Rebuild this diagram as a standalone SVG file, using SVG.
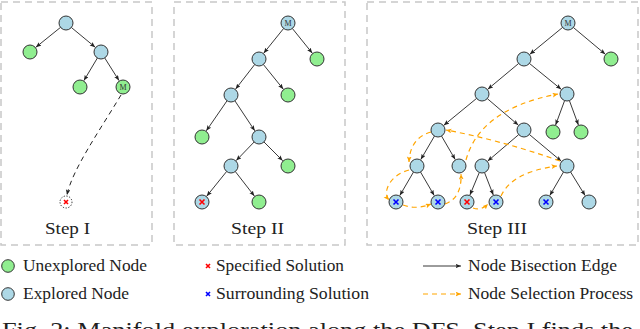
<svg xmlns="http://www.w3.org/2000/svg" width="640" height="329" viewBox="0 0 640 329">
<style>
.frame{fill:none;stroke:#c8c8c8;stroke-width:1.5;stroke-dasharray:7,5}
.ex{fill:#add8e6;stroke:#333;stroke-width:1}
.un{fill:#90ee90;stroke:#333;stroke-width:1}
.edge{fill:none;stroke:#222;stroke-width:0.9;marker-end:url(#ah)}
.sel{fill:none;stroke:#ffa500;stroke-width:1.2;stroke-dasharray:5,4;marker-end:url(#oh)}
.jump{fill:none;stroke:#222;stroke-width:1;stroke-dasharray:5,4;marker-end:url(#jh)}
.xr{stroke:#f00;stroke-width:1.6;fill:none}
.xb{stroke:#00f;stroke-width:1.6;fill:none}
.lbl{font-family:"Liberation Serif",serif;font-size:17px;fill:#222}
.m{font-family:"Liberation Serif",serif;font-size:8px;fill:#333;text-anchor:middle}
</style>
<defs>
<marker id="ah" markerUnits="userSpaceOnUse" markerWidth="7" markerHeight="6" refX="5.5" refY="2.2" orient="auto"><path d="M0,0 L5.5,2.2 L0,4.4 L1.2,2.2 z" fill="#222"/></marker>
<marker id="oh" markerUnits="userSpaceOnUse" markerWidth="7" markerHeight="6" refX="5.5" refY="2.4" orient="auto"><path d="M0,0 L5.5,2.4 L0,4.8 L1.2,2.4 z" fill="#ffa500"/></marker>
<marker id="jh" markerUnits="userSpaceOnUse" markerWidth="7" markerHeight="6" refX="5.5" refY="2.2" orient="auto"><path d="M0,0 L5.5,2.2 L0,4.4 L1.2,2.2 z" fill="#222"/></marker>
</defs>
<rect width="640" height="329" fill="#fff"/>
<g id="frames">
<rect class="frame" x="1" y="2" width="151" height="243"/>
<rect class="frame" x="174" y="2" width="171" height="243"/>
<rect class="frame" x="367" y="2" width="271" height="243"/>
</g>
<g id="connectors">
<!-- Step I -->
<line class="edge" x1="60.5" y1="27.4" x2="35.8" y2="47.3"/>
<line class="edge" x1="71.4" y1="27.5" x2="95.2" y2="47.2"/>
<line class="edge" x1="97.4" y1="58" x2="83.9" y2="80.6"/>
<line class="edge" x1="104.7" y1="57.9" x2="119" y2="80.6"/>
<path class="jump" d="M121,95 C100,130 72,170 67,195"/>
<!-- Step II -->
<line class="edge" x1="283.6" y1="28.5" x2="263.7" y2="53.2"/>
<line class="edge" x1="292.4" y1="28.5" x2="312.3" y2="53.2"/>
<line class="edge" x1="254.7" y1="64.5" x2="235.6" y2="89.1"/>
<line class="edge" x1="263.4" y1="64.5" x2="283.3" y2="89.2"/>
<line class="edge" x1="227" y1="100.8" x2="206.3" y2="130.8"/>
<line class="edge" x1="234.9" y1="100.8" x2="254.8" y2="130.8"/>
<line class="edge" x1="254.1" y1="142" x2="236.2" y2="160.6"/>
<line class="edge" x1="264" y1="142" x2="282.7" y2="160.7"/>
<line class="edge" x1="226.6" y1="171.5" x2="206.7" y2="196.2"/>
<line class="edge" x1="235.3" y1="171.5" x2="254.4" y2="196.1"/>
<!-- Step III -->
<line class="edge" x1="562.6" y1="27.4" x2="529.8" y2="54.3"/>
<line class="edge" x1="573.4" y1="27.5" x2="605.3" y2="54.2"/>
<line class="edge" x1="518.6" y1="63.5" x2="487.8" y2="89.2"/>
<line class="edge" x1="529.4" y1="63.4" x2="561.2" y2="89.3"/>
<line class="edge" x1="476.6" y1="98.4" x2="443.8" y2="125.3"/>
<line class="edge" x1="487.3" y1="98.6" x2="518.3" y2="125.1"/>
<line class="edge" x1="564.6" y1="100.6" x2="555.6" y2="125"/>
<line class="edge" x1="569.4" y1="100.6" x2="578.4" y2="125"/>
<line class="edge" x1="434.5" y1="136" x2="420.8" y2="159.5"/>
<line class="edge" x1="441.5" y1="136" x2="455.2" y2="159.5"/>
<line class="edge" x1="518.7" y1="134.6" x2="487.7" y2="161.1"/>
<line class="edge" x1="529.4" y1="134.5" x2="561.3" y2="161.2"/>
<line class="edge" x1="413.5" y1="172" x2="399.8" y2="195.5"/>
<line class="edge" x1="420.5" y1="172" x2="434.2" y2="195.5"/>
<line class="edge" x1="479.3" y1="172.5" x2="469.9" y2="195.1"/>
<line class="edge" x1="484.5" y1="172.5" x2="493.3" y2="195"/>
<line class="edge" x1="563.5" y1="172" x2="549.8" y2="195.5"/>
<line class="edge" x1="570.6" y1="172" x2="585.1" y2="195.6"/>
<!-- selection process -->
<path class="sel" d="M473,208 Q481,211 488,204"/>
<path class="sel" d="M501,196 Q512,172 557,166"/>
<path class="sel" d="M560,161 Q500,140 446,130"/>
<path class="sel" d="M431,132 Q410,138 409,162"/>
<path class="sel" d="M409,170 C390,175 382,192 389,200"/>
<path class="sel" d="M403,205 Q416,210 431,204"/>
<path class="sel" d="M445,204 Q462,198 461,174"/>
<path class="sel" d="M466,160 C474,130 500,105 558,94"/>
</g>
<!-- Step I nodes -->
<g id="s1-root"><circle class="ex" cx="66" cy="23" r="7"/></g>
<g id="s1-l"><circle class="un" cx="30" cy="52" r="7"/></g>
<g id="s1-r"><circle class="ex" cx="101" cy="52" r="7"/></g>
<g id="s1-rl"><circle class="un" cx="80" cy="87" r="7"/></g>
<g id="s1-M"><circle class="un" cx="123" cy="87" r="7"/><text class="m" x="123" y="90">M</text></g>
<g id="s1-sol"><circle cx="66" cy="202" r="6" fill="none" stroke="#222" stroke-width="1" stroke-dasharray="1.2,1.6"/><path class="xr" d="M64,200 L68,204 M68,200 L64,204"/></g>
<text class="lbl" x="45" y="234" textLength="45" lengthAdjust="spacingAndGlyphs">Step I</text>
<!-- Step II nodes -->
<g id="s2-A"><circle class="ex" cx="288" cy="23" r="7"/><text class="m" x="288" y="26">M</text></g>
<g id="s2-B"><circle class="ex" cx="259" cy="59" r="7"/></g>
<g id="s2-C"><circle class="un" cx="317" cy="59" r="7"/></g>
<g id="s2-D"><circle class="ex" cx="231" cy="95" r="7"/></g>
<g id="s2-E"><circle class="un" cx="288" cy="95" r="7"/></g>
<g id="s2-F"><circle class="un" cx="202" cy="137" r="7"/></g>
<g id="s2-G"><circle class="ex" cx="259" cy="137" r="7"/></g>
<g id="s2-H"><circle class="ex" cx="231" cy="166" r="7"/></g>
<g id="s2-I"><circle class="un" cx="288" cy="166" r="7"/></g>
<g id="s2-J"><circle class="ex" cx="202" cy="202" r="7"/><path class="xr" d="M199.5,199.5 L204.5,204.5 M204.5,199.5 L199.5,204.5"/></g>
<g id="s2-K"><circle class="un" cx="259" cy="202" r="7"/></g>
<text class="lbl" x="231" y="234" textLength="53" lengthAdjust="spacingAndGlyphs">Step II</text>
<!-- Step III nodes -->
<g id="s3-R"><circle class="ex" cx="568" cy="23" r="7"/><text class="m" x="568" y="26">M</text></g>
<g id="s3-a"><circle class="ex" cx="524" cy="59" r="7"/></g>
<g id="s3-b"><circle class="un" cx="611" cy="59" r="7"/></g>
<g id="s3-c"><circle class="ex" cx="482" cy="94" r="7"/></g>
<g id="s3-d"><circle class="ex" cx="567" cy="94" r="7"/></g>
<g id="s3-e"><circle class="ex" cx="438" cy="130" r="7"/></g>
<g id="s3-f"><circle class="ex" cx="524" cy="130" r="7"/></g>
<g id="s3-g"><circle class="un" cx="553" cy="132" r="7"/></g>
<g id="s3-h"><circle class="un" cx="581" cy="132" r="7"/></g>
<g id="s3-i"><circle class="ex" cx="417" cy="166" r="7"/></g>
<g id="s3-j"><circle class="ex" cx="459" cy="166" r="7"/></g>
<g id="s3-k"><circle class="ex" cx="482" cy="166" r="7"/></g>
<g id="s3-l"><circle class="ex" cx="567" cy="166" r="7"/></g>
<g id="s3-m"><circle class="ex" cx="396" cy="202" r="7"/><path class="xb" d="M393.5,199.5 L398.5,204.5 M398.5,199.5 L393.5,204.5"/></g>
<g id="s3-n"><circle class="ex" cx="438" cy="202" r="7"/><path class="xb" d="M435.5,199.5 L440.5,204.5 M440.5,199.5 L435.5,204.5"/></g>
<g id="s3-o"><circle class="ex" cx="467" cy="202" r="7"/><path class="xr" d="M464.5,199.5 L469.5,204.5 M469.5,199.5 L464.5,204.5"/></g>
<g id="s3-p"><circle class="ex" cx="496" cy="202" r="7"/><path class="xb" d="M493.5,199.5 L498.5,204.5 M498.5,199.5 L493.5,204.5"/></g>
<g id="s3-q"><circle class="ex" cx="546" cy="202" r="7"/><path class="xb" d="M543.5,199.5 L548.5,204.5 M548.5,199.5 L543.5,204.5"/></g>
<g id="s3-s"><circle class="ex" cx="589" cy="202" r="7"/></g>
<text class="lbl" x="467" y="234" textLength="60" lengthAdjust="spacingAndGlyphs">Step III</text>
<!-- Legend -->
<g id="legend">
<circle class="un" cx="8" cy="266" r="6.3"/>
<text class="lbl" x="23" y="271" textLength="124" lengthAdjust="spacingAndGlyphs">Unexplored Node</text>
<circle class="ex" cx="8" cy="294" r="6.3"/>
<text class="lbl" x="23" y="299" textLength="106" lengthAdjust="spacingAndGlyphs">Explored Node</text>
<path class="xr" d="M206,264 L210,268 M210,264 L206,268"/>
<text class="lbl" x="216" y="271" textLength="128" lengthAdjust="spacingAndGlyphs">Specified Solution</text>
<path class="xb" d="M206,292 L210,296 M210,292 L206,296"/>
<text class="lbl" x="216" y="299" textLength="153" lengthAdjust="spacingAndGlyphs">Surrounding Solution</text>
<line class="edge" x1="423" y1="266" x2="461" y2="266"/>
<text class="lbl" x="468" y="271" textLength="149" lengthAdjust="spacingAndGlyphs">Node Bisection Edge</text>
<line class="sel" x1="423" y1="294" x2="461" y2="294"/>
<text class="lbl" x="468" y="299" textLength="165" lengthAdjust="spacingAndGlyphs">Node Selection Process</text>
</g>
<text x="2" y="337" font-family="Liberation Serif, serif" font-size="22" fill="#222" textLength="631" lengthAdjust="spacingAndGlyphs">Fig. 2: Manifold exploration along the DFS. Step I finds the</text>
</svg>
